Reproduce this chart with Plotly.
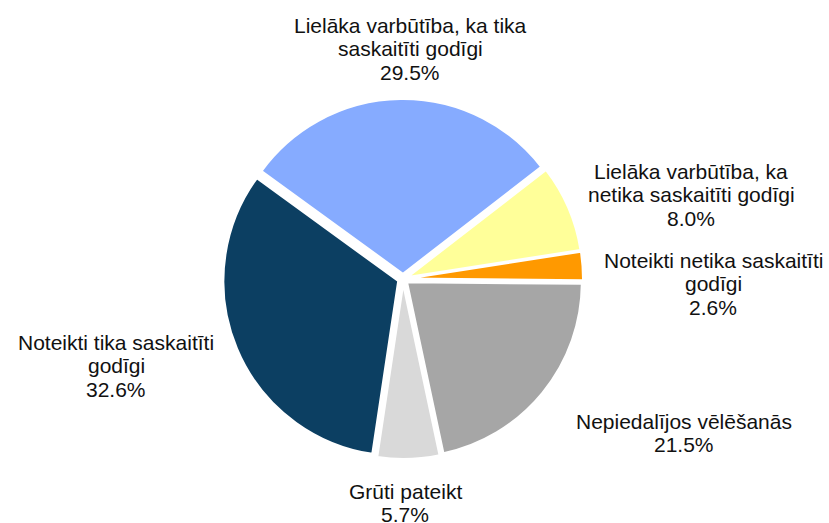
import plotly.graph_objects as go

W, H = 829, 523

labels = [
    "Lielāka varbūtība, ka tika saskaitīti godīgi",
    "Lielāka varbūtība, ka netika saskaitīti godīgi",
    "Noteikti netika saskaitīti godīgi",
    "Nepiedalījos vēlēšanās",
    "Grūti pateikt",
    "Noteikti tika saskaitīti godīgi",
]
values = [29.5, 8.0, 2.6, 21.5, 5.7, 32.6]
label_lines = [
    ["Lielāka varbūtība, ka tika", "saskaitīti godīgi"],
    ["Lielāka varbūtība, ka", "netika saskaitīti godīgi"],
    ["Noteikti netika saskaitīti", "godīgi"],
    ["Nepiedalījos vēlēšanās"],
    ["Grūti pateikt"],
    ["Noteikti tika saskaitīti", "godīgi"],
]
colors = ["#86ABFF", "#FFFF99", "#FF9900", "#A6A6A6", "#D9D9D9", "#0C3F62"]

# label block position: centre x and centre y of first line (pixels)
label_pos = [(410, 25), (691, 171), (713, 260), (684, 421), (405, 491), (116, 342)]
LINE_H = 23.5

cx, cy, R = 403, 279, 180

fig = go.Figure(go.Pie(
    labels=labels,
    values=values,
    sort=False,
    direction="clockwise",
    rotation=-54,
    marker=dict(colors=colors, line=dict(color="white", width=2)),
    pull=[0.03] * len(values),
    textinfo="none",
    hoverinfo="label+percent",
    showlegend=False,
    domain=dict(x=[(cx - R) / W, (cx + R) / W], y=[1 - (cy + R) / H, 1 - (cy - R) / H]),
))

for lines, v, (px, py) in zip(label_lines, values, label_pos):
    for i, line in enumerate(lines + [f"{v:.1f}%"]):
        fig.add_annotation(
            x=px / W, y=1 - (py + i * LINE_H) / H, xref="paper", yref="paper",
            text=line,
            showarrow=False, xanchor="center", yanchor="middle", align="center",
            font=dict(family="Liberation Sans, Arial, sans-serif", size=21, color="#111111"),
        )

fig.update_layout(
    width=W, height=H,
    margin=dict(l=0, r=0, t=0, b=0),
    paper_bgcolor="white", plot_bgcolor="white",
)

fig.write_html("out.html", config={"displayModeBar": False},
               post_script="document.body.style.margin='0';")
